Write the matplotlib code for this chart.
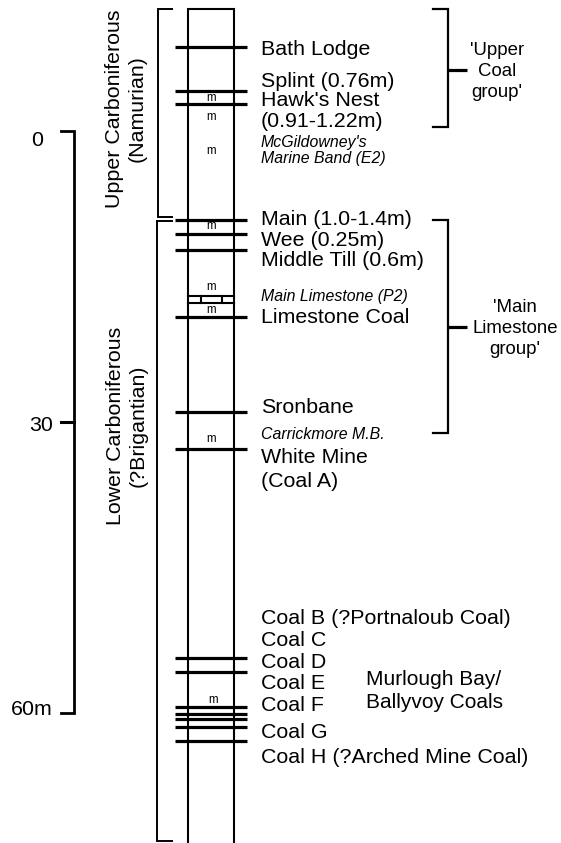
import matplotlib
matplotlib.use("Agg")
import matplotlib.pyplot as plt

plt.rcParams["font.family"] = ["Liberation Sans", "DejaVu Sans"]

# ---- data (depths in metres, 0 at top of scale, increasing downward) ----
seam_depths = [-8.66, -4.12, -2.78, 9.18, 10.62, 12.27, 19.18, 28.97, 32.78,
               54.33, 55.77, 59.38, 60.10, 60.67, 61.44, 62.89]
marine_depths = [-3.40, -1.44, 2.06, 9.79, 16.08, 18.45, 31.75, 58.66]
limestone_band = (17.01, 17.73)
scale_ticks = [0, 30, 60]
scale_labels = ["0", "30", "60m"]

seam_labels = ["Bath Lodge", "Splint (0.76m)", "Hawk's Nest", "(0.91-1.22m)",
               "Main (1.0-1.4m)", "Wee (0.25m)", "Middle Till (0.6m)",
               "Limestone Coal", "Sronbane", "White Mine", "(Coal A)",
               "Coal B (?Portnaloub Coal)", "Coal C", "Coal D", "Coal E",
               "Coal F", "Coal G", "Coal H (?Arched Mine Coal)"]
seam_label_px = [55, 87, 106, 127, 225, 246, 266, 323, 413, 463, 487,
                 624, 646, 668, 689, 711, 738, 763]
marine_labels = ["McGildowney's", "Marine Band (E2)", "Main Limestone (P2)",
                 "Carrickmore M.B."]
marine_label_px = [147, 163, 301, 439]

W, H = 561, 843
Y0, PXM = 131.0, 9.7   # pixel row of 0 m, pixels per metre


def m(px):
    return (px - Y0) / PXM


fig = plt.figure(figsize=(W / 100, H / 100), dpi=100)
ax = fig.add_axes([0, 0, 1, 1])
ax.set_xlim(0, W)
ax.set_ylim(m(H), m(0))
ax.axis("off")

K = "black"

# column
ax.plot([188, 188, 234, 234], [m(846), m(9), m(9), m(846)], color=K, lw=1.5,
        solid_joinstyle="miter")

# coal seams
for d in seam_depths:
    ax.plot([175, 247], [d, d], color=K, lw=2.3, solid_capstyle="butt")

# main limestone band
top, bot = limestone_band
ax.plot([188, 234], [top, top], color=K, lw=1.5)
ax.plot([188, 234], [bot, bot], color=K, lw=1.5)
for xx in (201, 222):
    ax.plot([xx, xx], [top, bot], color=K, lw=1.5)

# marine bands
for i, d in enumerate(marine_depths):
    xx = 213 if i == len(marine_depths) - 1 else 211
    ax.text(xx, d, "m", ha="center", va="center", fontsize=8.3)

# depth scale
ax.plot([61, 74, 74, 61], [scale_ticks[0], scale_ticks[0], scale_ticks[-1], scale_ticks[-1]],
        color=K, lw=2.0, solid_joinstyle="miter")
ax.plot([61, 74], [scale_ticks[1], scale_ticks[1]], color=K, lw=2.2)
for t, lab in zip(scale_ticks, scale_labels):
    xr = 43 if t == 0 else 53
    off = 15.5 if t == 0 else 9.5 if t == 30 else 2.5
    ax.text(xr, t + off / PXM, lab, ha="right", va="baseline", fontsize=15.4)

# stratigraphic brackets (left)
ax.plot([172, 158, 158, 172], [m(9), m(9), m(217), m(217)], color=K, lw=1.4,
        solid_joinstyle="miter")
ax.plot([172, 157, 157, 172], [m(220.5), m(220.5), m(841.5), m(841.5)], color=K,
        lw=1.4, solid_joinstyle="miter")
ax.text(126, m(109), "Upper Carboniferous\n(Namurian)", rotation=90,
        ha="center", va="center", multialignment="center", fontsize=15.4)
ax.text(127, m(426), "Lower Carboniferous\n(?Brigantian)", rotation=90,
        ha="center", va="center", multialignment="center", fontsize=15.4)

# seam labels
for lab, py in zip(seam_labels, seam_label_px):
    ax.text(261, m(py), lab, ha="left", va="baseline", fontsize=15.4)
for lab, py in zip(marine_labels, marine_label_px):
    ax.text(261, m(py), lab, ha="left", va="baseline", fontsize=11.4,
            style="italic")

# group brackets (right)
for ytop, ybot, ymid, xt, lines, bases in [
        (9, 126.5, 70, 497, ["'Upper", "Coal", "group'"], [55, 76, 97]),
        (220, 433, 327, 515, ["'Main", "Limestone", "group'"], [312, 333, 354])]:
    ax.plot([433, 448, 448, 433], [m(ytop), m(ytop), m(ybot), m(ybot)], color=K,
            lw=1.6, solid_joinstyle="miter")
    ax.plot([448, 467], [m(ymid), m(ymid)], color=K, lw=2.3, solid_capstyle="butt")
    for s, b in zip(lines, bases):
        ax.text(xt, m(b), s, ha="center", va="baseline", fontsize=13.4)

ax.text(366, m(685), "Murlough Bay/", ha="left", va="baseline", fontsize=15)
ax.text(366, m(708), "Ballyvoy Coals", ha="left", va="baseline", fontsize=15)

fig.savefig("out.png", dpi=100, facecolor="white")
